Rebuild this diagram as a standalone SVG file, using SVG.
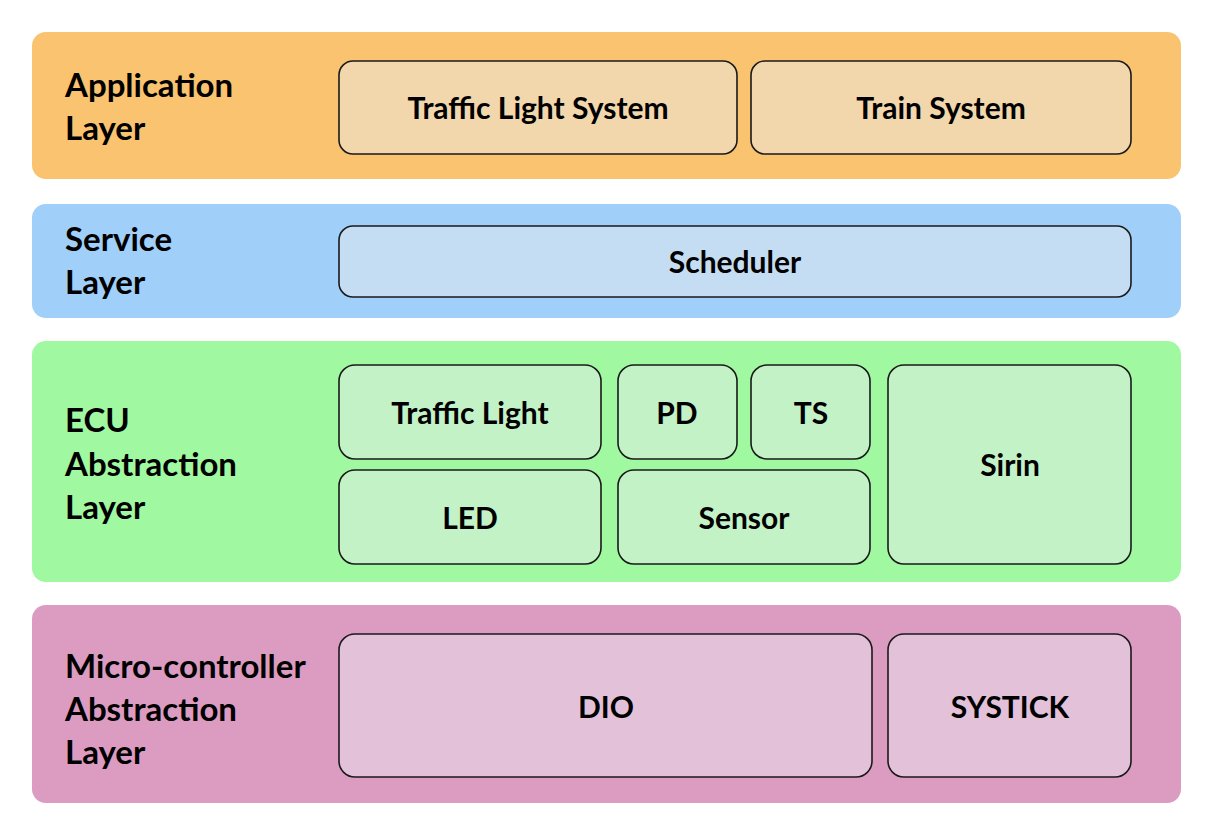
<svg xmlns="http://www.w3.org/2000/svg" width="1212" height="835" viewBox="0 0 1212 835">
<style>
.lbl{font-family:Lato,"Open Sans","Liberation Sans",sans-serif;font-weight:bold;font-size:33px;fill:#000}
.txt{font-family:Lato,"Open Sans","Liberation Sans",sans-serif;font-weight:bold;font-size:30px;fill:#000;text-anchor:middle;dominant-baseline:central}
.node{stroke:#1a1a1a;stroke-width:1.6}
.app{fill:#F9C36F}.appn{fill:#F2D6AC}
.svc{fill:#A0CFFA}.svcn{fill:#C5DDF3}
.ecu{fill:#A0F8A0}.ecun{fill:#C3F2C6}
.mc{fill:#DC9BC0}.mcn{fill:#E3C1D8}
</style>
<rect width="1212" height="835" fill="#fff"/>
<g id="layer-application">
<rect class="app" x="32" y="32" width="1149" height="147" rx="14"/>
<text class="lbl" x="65"><tspan x="65" y="97">Application</tspan><tspan x="65" y="140">Layer</tspan></text>
</g>
<g id="node-traffic-light-system"><rect class="node appn" x="339" y="61" width="398" height="93" rx="14"/><text class="txt" x="538" y="107">Traffic Light System</text></g>
<g id="node-train-system"><rect class="node appn" x="751" y="61" width="380" height="93" rx="14"/><text class="txt" x="941" y="107">Train System</text></g>

<g id="layer-service">
<rect class="svc" x="32" y="204" width="1149" height="114" rx="14"/>
<text class="lbl" x="65"><tspan x="65" y="251">Service</tspan><tspan x="65" y="294">Layer</tspan></text>
</g>
<g id="node-scheduler"><rect class="node svcn" x="339" y="226" width="792" height="71" rx="14"/><text class="txt" x="735" y="261">Scheduler</text></g>

<g id="layer-ecu">
<rect class="ecu" x="32" y="341" width="1149" height="241" rx="14"/>
<text class="lbl" x="65"><tspan x="65" y="432">ECU</tspan><tspan x="65" y="476">Abstraction</tspan><tspan x="65" y="519">Layer</tspan></text>
</g>
<g id="node-traffic-light"><rect class="node ecun" x="339" y="365" width="262" height="94" rx="16"/><text class="txt" x="470" y="412">Traffic Light</text></g>
<g id="node-pd"><rect class="node ecun" x="618" y="365" width="119" height="94" rx="16"/><text class="txt" x="677" y="412">PD</text></g>
<g id="node-ts"><rect class="node ecun" x="751" y="365" width="119" height="94" rx="16"/><text class="txt" x="811" y="412">TS</text></g>
<g id="node-sirin"><rect class="node ecun" x="888" y="365" width="243" height="199" rx="16"/><text class="txt" x="1010" y="464">Sirin</text></g>
<g id="node-led"><rect class="node ecun" x="339" y="470" width="262" height="94" rx="16"/><text class="txt" x="470" y="517">LED</text></g>
<g id="node-sensor"><rect class="node ecun" x="618" y="470" width="252" height="94" rx="16"/><text class="txt" x="744" y="517">Sensor</text></g>

<g id="layer-mcal">
<rect class="mc" x="32" y="605" width="1149" height="198" rx="14"/>
<text class="lbl" x="65"><tspan x="65" y="678">Micro-controller</tspan><tspan x="65" y="721">Abstraction</tspan><tspan x="65" y="764">Layer</tspan></text>
</g>
<g id="node-dio"><rect class="node mcn" x="339" y="634" width="533" height="143" rx="16"/><text class="txt" x="606" y="706">DIO</text></g>
<g id="node-systick"><rect class="node mcn" x="888" y="634" width="243" height="143" rx="16"/><text class="txt" x="1010" y="706">SYSTICK</text></g>
<g id="connectors"/>
</svg>
